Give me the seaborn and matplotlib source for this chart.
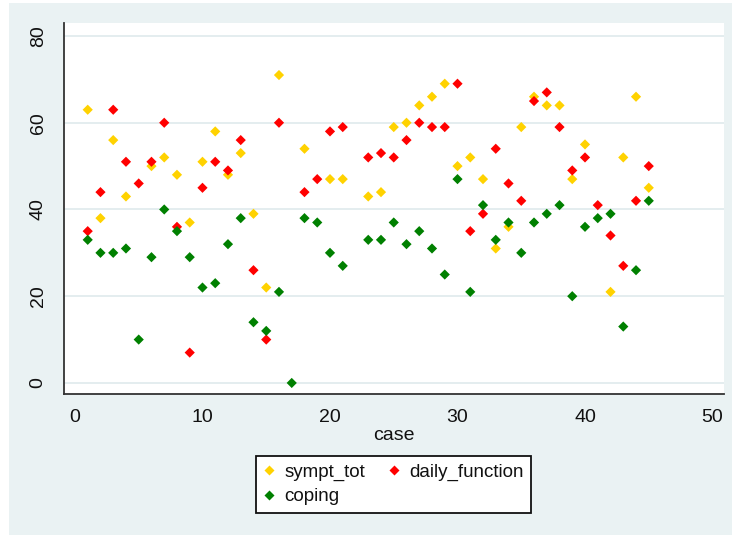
import numpy as np
import pandas as pd
import matplotlib
matplotlib.use("Agg")
import matplotlib.pyplot as plt
from matplotlib.patches import Rectangle
from matplotlib.lines import Line2D
import seaborn as sns

# Case-level scores (NaN where a score is not recorded)
case = list(range(1, 46))
sympt_tot = [63, 38, 56, 43, np.nan, 50, 52, 48, 37, 51,
             58, 48, 53, 39, 22, 71, np.nan, 54, np.nan, 47,
             47, np.nan, 43, 44, 59, 60, 64, 66, 69, 50,
             52, 47, 31, 36, 59, 66, 64, 64, 47, 55,
             np.nan, 21, 52, 66, 45]
daily_function = [35, 44, 63, 51, 46, 51, 60, 36, 7, 45,
                  51, 49, 56, 26, 10, 60, np.nan, 44, 47, 58,
                  59, np.nan, 52, 53, 52, 56, 60, 59, 59, 69,
                  35, 39, 54, 46, 42, 65, 67, 59, 49, 52,
                  41, 34, 27, 42, 50]
coping = [33, 30, 30, 31, 10, 29, 40, 35, 29, 22,
          23, 32, 38, 14, 12, 21, 0, 38, 37, 30,
          27, np.nan, 33, 33, 37, 32, 35, 31, 25, 47,
          21, 41, 33, 37, 30, 37, 39, 41, 20, 36,
          38, 39, 13, 26, 42]

series_names = ["sympt_tot", "daily_function", "coping"]
series_colors = ["#FFD200", "#FF0000", "#008000"]
x_ticks = [0, 10, 20, 30, 40, 50]
y_ticks = [0, 20, 40, 60, 80]

BG = "#EAF2F3"
AXIS_COLOR = "#333333"
TEXT_COLOR = "#111111"

sns.set_theme(style="white")
plt.rcParams["font.family"] = ["Liberation Sans", "DejaVu Sans"]

wide = pd.DataFrame({"case": case, "sympt_tot": sympt_tot,
                     "daily_function": daily_function, "coping": coping})
long = wide.melt(id_vars="case", value_vars=series_names,
                 var_name="series", value_name="value").dropna()

W, H = 732, 535
fig = plt.figure(figsize=(W / 100, H / 100), dpi=100, facecolor="white")
fig.patches.append(Rectangle((9 / W, 0), 1 - 9 / W, 1 - 3 / H,
                             transform=fig.transFigure, facecolor=BG,
                             edgecolor="none", zorder=-10))

ax = fig.add_axes([64 / W, 1 - 394 / H, 660 / W, 371 / H])
ax.set_facecolor("white")

sns.scatterplot(data=long, x="case", y="value", hue="series",
                hue_order=series_names, palette=series_colors,
                marker="D", s=27, linewidth=0, legend=False, ax=ax, zorder=3)

ax.set_xlim(-0.86, 50.9)
ax.set_ylim(-2.55, 83.0)
ax.set_xticks(x_ticks)
ax.set_yticks(y_ticks)
ax.set_xticklabels([str(t) for t in x_ticks])
ax.set_yticklabels([str(t) for t in y_ticks])

for yv in y_ticks:
    ax.axhline(yv, color="#E4EDEF", lw=1.4, zorder=1)

for side in ["top", "right"]:
    ax.spines[side].set_visible(False)
for side in ["left", "bottom"]:
    ax.spines[side].set_color(AXIS_COLOR)
    ax.spines[side].set_linewidth(1.3)

ax.tick_params(axis="both", which="major", length=6.5, width=1.1,
               color=AXIS_COLOR, labelsize=14, labelcolor=TEXT_COLOR,
               direction="out")
ax.tick_params(axis="x", pad=4)
ax.tick_params(axis="y", pad=6, labelrotation=90)
for lbl in ax.get_yticklabels():
    lbl.set_va("center")

ax.set_xlabel("case", fontsize=14, color=TEXT_COLOR, labelpad=1)
ax.set_ylabel("")

# Legend laid out row by row: sympt_tot, daily_function / coping
order = [0, 2, 1]
handles = [Line2D([0], [0], marker="D", linestyle="none", markersize=5.5,
                  markerfacecolor=series_colors[i], markeredgecolor="none")
           for i in order]
labels = [series_names[i] for i in order]
leg = fig.legend(handles, labels, loc="center",
                 bbox_to_anchor=(393.5 / W, 1 - 484.5 / H),
                 bbox_transform=fig.transFigure, ncol=2, fontsize=13.5,
                 frameon=True, fancybox=False, handlelength=0.6,
                 handletextpad=0.55, columnspacing=1.2, labelspacing=0.4,
                 borderpad=0.4, borderaxespad=0)
frame = leg.get_frame()
frame.set_edgecolor(TEXT_COLOR)
frame.set_linewidth(1.3)
frame.set_facecolor("white")
frame.set_alpha(1)
for t in leg.get_texts():
    t.set_color(TEXT_COLOR)

fig.savefig("out.png", dpi=100, facecolor=fig.get_facecolor())
